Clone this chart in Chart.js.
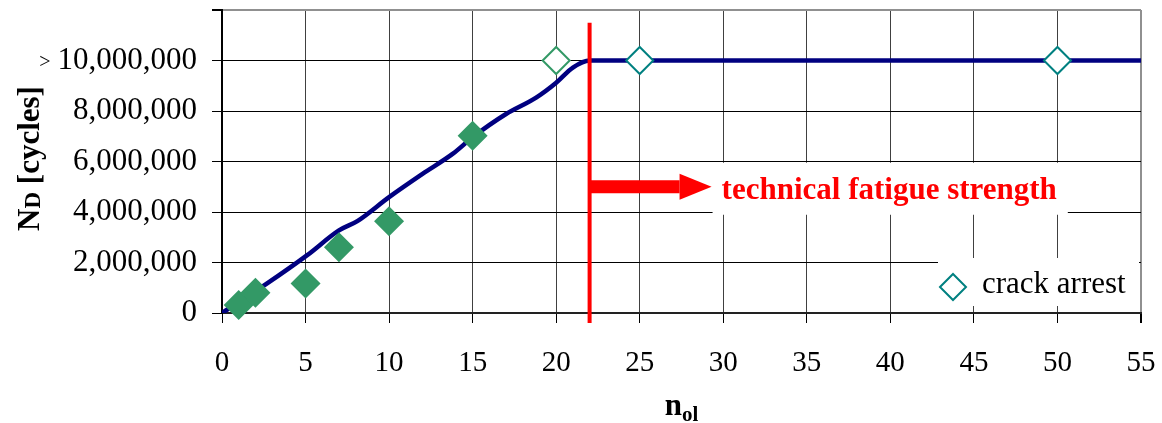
<!DOCTYPE html>
<html>
<head>
<meta charset="utf-8">
<title>technical fatigue strength</title>
<script src="https://cdn.jsdelivr.net/npm/chart.js@4.4.1/dist/chart.umd.min.js"></script>
<style>
    html, body { margin: 0; padding: 0; background: #fff; }
    #wrap { width: 1162px; height: 423px; }
</style>
</head>
<body>
<div id="wrap"><canvas id="fatigueChart" width="1162" height="423"></canvas></div>
<script>
// ========================================
// N_D vs n_ol
// ========================================

// fitted curve (blue line)
const curveX = [0, 2.7, 5.1, 7.0, 8.1, 10.0, 12.0, 13.8, 15.0, 17.0, 18.8, 20.0, 21.0, 22.0, 55];
const curveY = [0, 1.17e6, 2.29e6, 3.27e6, 3.64e6, 4.59e6, 5.51e6, 6.30e6, 6.96e6, 7.88e6, 8.53e6, 9.12e6, 9.72e6, 10.0e6, 10.0e6];

// test results (filled diamonds)
const testX = [1, 2, 5, 7, 10, 15];
const testY = [0.32e6, 0.8e6, 1.17e6, 2.6e6, 3.63e6, 7.02e6];

// run-out (open green diamond)
const runoutX = [20];
const runoutY = [10e6];

// crack arrest (open teal diamonds)
const arrestX = [25, 50];
const arrestY = [10e6, 10e6];

const xTicks = [0, 5, 10, 15, 20, 25, 30, 35, 40, 45, 50, 55];
const yTicks = [0, 2e6, 4e6, 6e6, 8e6, 10e6, 12e6];

const fatigueLimit = 22;       // n_ol of the red line
const fatigueLineTop = 11.5e6; // where the red line starts
const arrowLevel = 5e6;        // height of the red arrow
const arrowTip = 29.3;         // n_ol where the arrow ends

const legendLabel = 'crack arrest';
const noteLabel = 'technical fatigue strength';

const SERIF = "'Liberation Serif', 'Times New Roman', serif";

const toPoints = (xs, ys) => xs.map((x, i) => ({ x: x, y: ys[i] }));

function diamond(ctx, cx, cy, r) {
    ctx.beginPath();
    ctx.moveTo(cx - r, cy);
    ctx.lineTo(cx, cy - r);
    ctx.lineTo(cx + r, cy);
    ctx.lineTo(cx, cy + r);
    ctx.closePath();
}

const overlayPlugin = {
    id: 'overlay',
    afterDatasetsDraw(chart) {
        const { ctx, chartArea, scales: { x, y } } = chart;
        ctx.save();

        // red vertical line at the fatigue limit
        const fx = x.getPixelForValue(fatigueLimit);
        ctx.strokeStyle = '#ff0000';
        ctx.lineWidth = 4;
        ctx.beginPath();
        ctx.moveTo(fx, y.getPixelForValue(fatigueLineTop));
        ctx.lineTo(fx, chartArea.bottom + 10);
        ctx.stroke();

        // arrow
        const ay = y.getPixelForValue(arrowLevel);
        const tip = x.getPixelForValue(arrowTip);
        ctx.fillStyle = '#ff0000';
        ctx.fillRect(fx, ay - 6.5, tip - 32 - fx, 13);
        ctx.beginPath();
        ctx.moveTo(tip - 32, ay - 13);
        ctx.lineTo(tip, ay);
        ctx.lineTo(tip - 32, ay + 13);
        ctx.closePath();
        ctx.fill();

        // note text with white box
        ctx.font = 'bold 31px ' + SERIF;
        const tw = ctx.measureText(noteLabel).width;
        const boxL = tip + 1;
        ctx.fillStyle = '#fff';
        ctx.fillRect(boxL, ay - 24, tw + 20, 52);
        ctx.fillStyle = '#ff0000';
        ctx.textAlign = 'left';
        ctx.textBaseline = 'alphabetic';
        ctx.fillText(noteLabel, boxL + 9, ay + 12);

        // legend box (lower right inside plot)
        const lgR = chartArea.right - 2;
        const lgL = lgR - 201;
        const lgB = chartArea.bottom - 7;
        ctx.fillStyle = '#fff';
        ctx.fillRect(lgL, lgB - 48, 201, 48);
        diamond(ctx, lgL + 15, lgB - 19, 13);
        ctx.strokeStyle = '#008080';
        ctx.lineWidth = 2;
        ctx.stroke();
        ctx.fillStyle = '#000';
        ctx.font = '31px ' + SERIF;
        ctx.fillText(legendLabel, lgL + 44, lgB - 13);

        // small ">" before 10,000,000
        ctx.font = '31px ' + SERIF;
        const lw = ctx.measureText('10,000,000').width;
        const labelLeft = y.right - 10 - 15 - lw;
        ctx.font = '20px ' + SERIF;
        ctx.textAlign = 'right';
        ctx.fillText('>', labelLeft - 7, y.getPixelForValue(10e6) + 7);

        // y title: N_D [cycles]
        ctx.save();
        ctx.translate(39, (chartArea.top + chartArea.bottom) / 2 - 3);
        ctx.rotate(-Math.PI / 2);
        ctx.textAlign = 'left';
        ctx.font = 'bold 31px ' + SERIF;
        const wN = ctx.measureText('N').width;
        const wRest = ctx.measureText(' [cycles]').width;
        ctx.font = 'bold 23px ' + SERIF;
        const wD = ctx.measureText('D').width;
        let px = -(wN + wD + wRest) / 2;
        ctx.font = 'bold 31px ' + SERIF;
        ctx.fillText('N', px, 0);
        px += wN;
        ctx.font = 'bold 23px ' + SERIF;
        ctx.fillText('D', px, 1);
        px += wD;
        ctx.font = 'bold 31px ' + SERIF;
        ctx.fillText(' [cycles]', px, 0);
        ctx.restore();

        // x title: n_ol
        ctx.textAlign = 'left';
        ctx.font = 'bold 31px ' + SERIF;
        const wn = ctx.measureText('n').width;
        ctx.font = 'bold 21px ' + SERIF;
        const wol = ctx.measureText('ol').width;
        const cx = (chartArea.left + chartArea.right) / 2;
        let tx = cx - (wn + wol) / 2;
        ctx.font = 'bold 31px ' + SERIF;
        ctx.fillText('n', tx, 415);
        ctx.font = 'bold 21px ' + SERIF;
        ctx.fillText('ol', tx + wn, 421);

        ctx.restore();
    }
};

new Chart(document.getElementById('fatigueChart'), {
    type: 'scatter',
    data: {
        datasets: [
            {
                label: 'tests',
                data: toPoints(testX, testY),
                pointStyle: 'rectRot',
                pointRadius: 15,
                pointBackgroundColor: '#339966',
                pointBorderColor: '#339966',
                pointBorderWidth: 0,
                clip: false
            },
            {
                label: 'run-out',
                data: toPoints(runoutX, runoutY),
                pointStyle: 'rectRot',
                pointRadius: 13.5,
                pointBackgroundColor: '#ffffff',
                pointBorderColor: '#339966',
                pointBorderWidth: 2,
                clip: false
            },
            {
                label: legendLabel,
                data: toPoints(arrestX, arrestY),
                pointStyle: 'rectRot',
                pointRadius: 13.5,
                pointBackgroundColor: '#ffffff',
                pointBorderColor: '#008080',
                pointBorderWidth: 2,
                clip: false
            },
            {
                label: 'curve',
                data: toPoints(curveX, curveY),
                showLine: true,
                borderColor: '#000080',
                borderWidth: 4.5,
                pointRadius: 0,
                cubicInterpolationMode: 'monotone'
            }
        ]
    },
    options: {
        responsive: false,
        devicePixelRatio: 1,
        animation: false,
        layout: { autoPadding: false, padding: { left: 0, top: 10, right: 21, bottom: 0 } },
        plugins: {
            legend: { display: false },
            tooltip: { enabled: false }
        },
        scales: {
            x: {
                type: 'linear',
                min: 0,
                max: 55,
                afterBuildTicks: s => { s.ticks = xTicks.map(v => ({ value: v })); },
                afterFit: s => { s.height = 110; s.paddingLeft = 0; s.paddingRight = 0; },
                ticks: {
                    color: '#000',
                    font: { family: SERIF, size: 29 },
                    padding: 23,
                    maxRotation: 0
                },
                grid: {
                    color: c => (c.tick && c.tick.value === 55) ? '#909090' : '#404040',
                    lineWidth: c => (c.tick && c.tick.value === 55) ? 2 : 1,
                    tickColor: '#000',
                    tickLength: 10
                },
                border: { color: '#222', width: 2 }
            },
            y: {
                type: 'linear',
                min: 0,
                max: 12e6,
                afterBuildTicks: s => { s.ticks = yTicks.map(v => ({ value: v })); },
                afterFit: s => { s.width = 222; s.paddingTop = 0; s.paddingBottom = 0; },
                ticks: {
                    color: '#000',
                    font: { family: SERIF, size: 31 },
                    padding: 15,
                    callback: v => v === 12e6 ? '' : v.toLocaleString('en-US')
                },
                grid: {
                    color: c => (c.tick && c.tick.value === 12e6) ? '#909090' : '#000',
                    lineWidth: c => (c.tick && c.tick.value === 12e6) ? 2 : 1,
                    tickColor: '#000',
                    tickLength: 10
                },
                border: { color: '#000', width: 2 }
            }
        }
    },
    plugins: [overlayPlugin]
});
</script>
</body>
</html>
